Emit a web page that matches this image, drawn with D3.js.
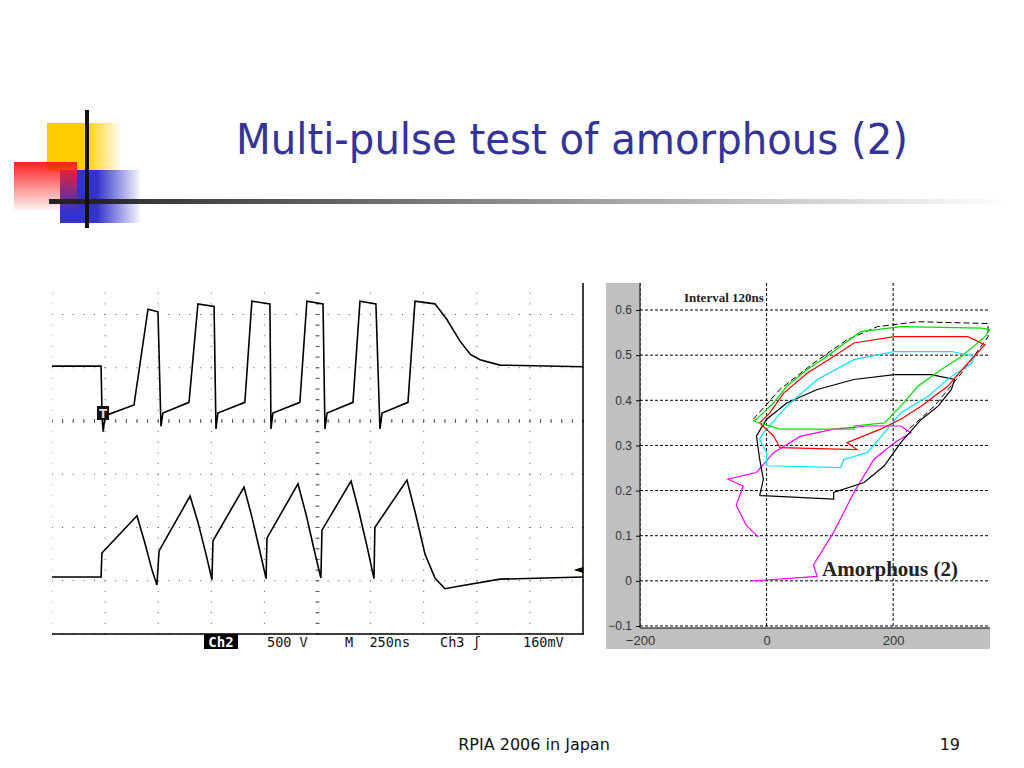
<!DOCTYPE html>
<html><head><meta charset="utf-8">
<script src="https://cdn.jsdelivr.net/npm/d3@7"></script>
<style>body{margin:0;background:#fff}svg{display:block}</style>
</head><body>
<div id="slide"></div>
<script>
// scope traces: [time ns, divisions from centre line]
const ch2 = [[0,1.03],[231,1.03],[236,0.05],[241,-0.2],[250,0.1],[386,0.3],[452,2.1],[499,2.05],[513,-0.1],[522,0.15],
  [645,0.35],[687,2.2],[763,2.15],[772,-0.15],[781,0.15],[908,0.35],[941,2.25],[1026,2.2],[1031,-0.15],[1040,0.15],
  [1167,0.35],[1200,2.25],[1276,2.2],[1285,-0.15],[1295,0.15],[1417,0.35],[1450,2.25],[1525,2.2],[1544,-0.15],[1554,0.15],
  [1676,0.35],[1709,2.25],[1803,2.2],[1860,1.9],[1921,1.5],[1970,1.25],[2015,1.15],[2109,1.05],[2500,1.02]];
const ch3 = [[0,-2.93],[231,-2.93],[235,-2.48],[400,-1.78],[438,-2.3],[471,-2.8],[494,-3.08],[504,-2.44],
  [650,-1.41],[687,-1.9],[725,-2.5],[753,-2.98],[758,-2.25],[904,-1.24],[941,-1.8],[979,-2.45],[1008,-2.96],
  [1012,-2.2],[1158,-1.18],[1196,-1.75],[1233,-2.4],[1266,-2.95],[1271,-2.05],[1408,-1.13],[1445,-1.7],[1483,-2.35],
  [1516,-2.96],[1520,-2.0],[1671,-1.11],[1709,-1.7],[1756,-2.5],[1803,-2.95],[1850,-3.15],[1921,-3.1],[2109,-2.97],[2500,-2.93]];
const scopeLabels = ["500 V","M  250ns","Ch3 \u0283","160mV"];

// loop traces: [voltage, value]
const magenta = [[-21,0],[80,0.01],[74,0.035],[106,0.108],[138,0.196],[170,0.27],[202,0.306],[228,0.328],[212,0.343],
  [159,0.343],[106,0.336],[53,0.32],[11,0.284],[-16,0.24],[-61,0.225],[-37,0.21],[-48,0.167],[-32,0.123],[-13,0.097]];
const blackLoop = [[-11,0.189],[106,0.181],[106,0.196],[154,0.218],[186,0.255],[212,0.306],[244,0.357],[271,0.387],
  [292,0.424],[297,0.446],[260,0.457],[202,0.457],[138,0.446],[80,0.424],[32,0.394],[0,0.358],[-16,0.321],[-11,0.27],[-5,0.225],[-11,0.189]];
const cyan = [[0,0.255],[117,0.251],[122,0.269],[159,0.284],[186,0.328],[212,0.372],[255,0.409],[292,0.453],[324,0.482],
  [329,0.497],[292,0.508],[202,0.508],[138,0.49],[80,0.446],[32,0.387],[-5,0.328],[-11,0.313],[0,0.284],[0,0.255]];
const red = [[11,0.321],[21,0.295],[143,0.291],[127,0.306],[180,0.336],[212,0.358],[244,0.387],[286,0.431],[318,0.482],
  [345,0.523],[318,0.541],[202,0.541],[138,0.527],[106,0.497],[64,0.46],[27,0.416],[5,0.372],[-11,0.35],[11,0.321]];
const green = [[-21,0.354],[21,0.336],[138,0.336],[138,0.343],[186,0.35],[212,0.387],[239,0.431],[276,0.468],[308,0.497],
  [345,0.541],[353,0.556],[340,0.56],[212,0.563],[149,0.552],[127,0.53],[95,0.497],[64,0.468],[32,0.431],[11,0.394],[-16,0.358],[-21,0.354]];
const outer = [[-21,0.358],[21,0.424],[74,0.482],[127,0.534],[175,0.563],[239,0.574],[350,0.57],[350,0.541],[308,0.46],[265,0.387],[220,0.33]];
const yTicks = [-0.1,0,0.1,0.2,0.3,0.4,0.5,0.6];
const xTicks = [-200,0,200];

const svg = d3.select("#slide").append("svg").attr("width",1024).attr("height",768);
const defs = svg.append("defs");
function grad(id, x2, y2, stops) {
  const g = defs.append("linearGradient").attr("id",id).attr("x1",0).attr("y1",0).attr("x2",x2).attr("y2",y2);
  stops.forEach(s => g.append("stop").attr("offset",s[0]).attr("stop-color",s[1]).attr("stop-opacity",s[2]));
}
grad("gy",1,0,[[0.5,"#ffcc00",1],[1,"#ffcc00",0]]);
grad("gb",1,0,[[0.45,"#3333cc",1],[1,"#3333cc",0]]);
grad("gr",0,1,[[0,"#ff2020",1],[1,"#ff2020",0.05]]);
grad("gl",1,0,[[0,"#222",1],[1,"#222",0]]);
defs.append("clipPath").attr("id","scopeClip").append("rect").attr("x",52).attr("y",283).attr("width",532).attr("height",352);
defs.append("clipPath").attr("id","plotClip").append("rect").attr("x",640).attr("y",283).attr("width",350).attr("height",345);

// logo
svg.append("rect").attr("x",47).attr("y",123).attr("width",75).attr("height",48).attr("fill","url(#gy)");
svg.append("rect").attr("x",60).attr("y",170).attr("width",82).attr("height",53).attr("fill","url(#gb)");
svg.append("rect").attr("x",14).attr("y",162).attr("width",63).attr("height",48).attr("fill","url(#gr)");
svg.append("rect").attr("x",49).attr("y",199).attr("width",960).attr("height",5).attr("fill","url(#gl)");
svg.append("rect").attr("x",85).attr("y",110).attr("width",4).attr("height",118).attr("fill","#111");

svg.append("text").attr("x",236).attr("y",154).attr("textLength",672).attr("lengthAdjust","spacingAndGlyphs")
  .attr("font-family","DejaVu Sans").attr("font-size",42).attr("fill","#333399").text("Multi-pulse test of amorphous (2)");

// oscilloscope
const tx = d3.scaleLinear().domain([0,2500]).range([52,583]);
const ty = d3.scaleLinear().domain([-4,4]).range([634,208]);
const sc = svg.append("g");
const gridG = sc.append("g").attr("clip-path","url(#scopeClip)");
d3.range(0,11).forEach(i => {
  for (let s = -4; s <= 4; s += 0.2)
    gridG.append("rect").attr("x",tx(i*250)-0.5).attr("y",ty(s)-0.5).attr("width",1).attr("height",1).attr("fill","#555");
});
d3.range(-4,5).forEach(j => {
  for (let s = 0; s <= 2500; s += 50)
    gridG.append("rect").attr("x",tx(s)-0.5).attr("y",ty(j)-0.5).attr("width",1).attr("height",1).attr("fill","#555");
});
// centre tick marks
for (let s = 0; s <= 2500; s += 50)
  gridG.append("line").attr("x1",tx(s)).attr("x2",tx(s)).attr("y1",ty(0)-2).attr("y2",ty(0)+2).attr("stroke","#555");
for (let s = -4; s <= 4; s += 0.2)
  gridG.append("line").attr("x1",tx(1250)-2).attr("x2",tx(1250)+2).attr("y1",ty(s)).attr("y2",ty(s)).attr("stroke","#555");
sc.append("line").attr("x1",52).attr("x2",584).attr("y1",634).attr("y2",634).attr("stroke","#000").attr("stroke-width",1.5);
sc.append("line").attr("x1",583).attr("x2",583).attr("y1",283).attr("y2",634).attr("stroke","#000").attr("stroke-width",1.5);
const sline = d3.line().x(d => tx(d[0])).y(d => ty(d[1]));
[ch2, ch3].forEach(tr => sc.append("path").attr("d",sline(tr)).attr("fill","none").attr("stroke","#000").attr("stroke-width",1.6).attr("clip-path","url(#scopeClip)"));
sc.append("rect").attr("x",97).attr("y",406).attr("width",12).attr("height",14).attr("fill","#111");
sc.append("text").attr("x",103).attr("y",418).attr("text-anchor","middle").attr("font-family","DejaVu Sans").attr("font-weight","bold").attr("font-size",12).attr("fill","#ddd").text("T");
sc.append("text").attr("x",583).attr("y",573).attr("text-anchor","end").attr("font-size",12).attr("font-family","DejaVu Sans").text("\u25C4");
sc.append("rect").attr("x",204).attr("y",634).attr("width",34).attr("height",15).attr("fill","#000");
sc.append("text").attr("x",221).attr("y",647).attr("text-anchor","middle").attr("font-family","DejaVu Sans Mono").attr("font-weight","bold").attr("font-size",14).attr("fill","#fff").text("Ch2");
[267,345,440,523].forEach((x,i) => sc.append("text").attr("x",x).attr("y",647).attr("font-family","DejaVu Sans Mono")
  .attr("font-size",13.5).style("white-space","pre").attr("fill","#111").text(scopeLabels[i]));

// loop plot
const lx = d3.scaleLinear().domain([-200,353]).range([640,990]);
const ly = d3.scaleLinear().domain([-0.1,0.6]).range([626,310]);
const lp = svg.append("g");
lp.append("rect").attr("x",606).attr("y",283).attr("width",384).attr("height",366).attr("fill","#c0c0c0");
lp.append("rect").attr("x",640).attr("y",283).attr("width",350).attr("height",345).attr("fill","#fff");
const pg = lp.append("g").attr("clip-path","url(#plotClip)");
yTicks.forEach(v => pg.append("line").attr("x1",640).attr("x2",990).attr("y1",ly(v)).attr("y2",ly(v)).attr("stroke","#000").attr("stroke-dasharray","3,2"));
xTicks.forEach(v => pg.append("line").attr("x1",lx(v)).attr("x2",lx(v)).attr("y1",283).attr("y2",628).attr("stroke","#000").attr("stroke-dasharray","3,2"));
lp.append("g").attr("transform","translate(640,0)").call(d3.axisLeft(ly).tickValues(yTicks).tickSize(4).tickFormat(d3.format("~g")))
  .call(g => { g.select(".domain").remove(); g.selectAll("text").attr("font-family","Arial, Liberation Sans").attr("font-size",12).attr("fill","#333").attr("x",-8); });
lp.append("g").attr("transform","translate(0,628)").call(d3.axisBottom(lx).tickValues(xTicks).tickSize(0).tickFormat(d3.format("~g")))
  .call(g => { g.select(".domain").remove(); g.selectAll("text").attr("font-family","Arial, Liberation Sans").attr("font-size",13).attr("fill","#333").attr("y",8); });
lp.append("line").attr("x1",640).attr("x2",640).attr("y1",283).attr("y2",628).attr("stroke","#000");
lp.append("line").attr("x1",640).attr("x2",990).attr("y1",628).attr("y2",628).attr("stroke","#000");
const ll = d3.line().x(d => lx(d[0])).y(d => ly(d[1]));
pg.append("path").attr("d",ll(outer)).attr("fill","none").attr("stroke","#000").attr("stroke-dasharray","6,3");
[[magenta,"#ff00ff"],[blackLoop,"#000"],[cyan,"#00e5ff"],[red,"#ff0000"],[green,"#00e000"]].forEach(s =>
  pg.append("path").attr("d",ll(s[0])).attr("fill","none").attr("stroke",s[1]).attr("stroke-width",1.2));
lp.append("text").attr("x",684).attr("y",302).attr("font-family","Liberation Serif").attr("font-weight","bold").attr("font-size",13).attr("fill","#222").text("Interval 120ns");
lp.append("text").attr("x",822).attr("y",576).attr("font-family","Liberation Serif").attr("font-weight","bold").attr("font-size",21).attr("fill","#222").text("Amorphous (2)");

svg.append("text").attr("x",534).attr("y",750).attr("text-anchor","middle").attr("font-family","DejaVu Sans").attr("font-size",16).attr("fill","#111").text("RPIA 2006 in Japan");
svg.append("text").attr("x",960).attr("y",750).attr("text-anchor","end").attr("font-family","DejaVu Sans").attr("font-size",16).attr("fill","#111").text("19");
</script>
</body></html>
